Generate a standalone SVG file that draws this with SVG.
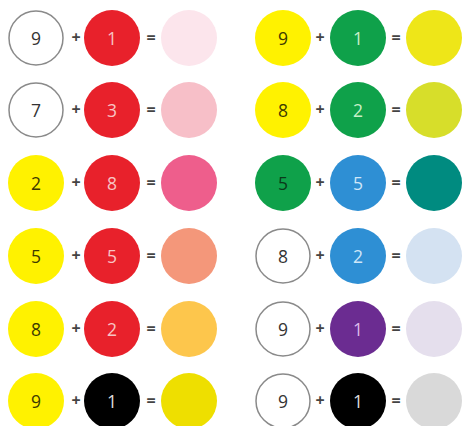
<svg xmlns="http://www.w3.org/2000/svg" width="463" height="426" viewBox="0 0 463 426">
<style>
text{font-family:"Open Sans","Liberation Sans",sans-serif;font-size:17.5px;text-anchor:middle;dominant-baseline:central}
.op{font-size:16px;fill:#444;font-weight:bold}
.w{fill:#fff;stroke:#8a8a8a;stroke-width:1.5}
.dk{fill:#333}
.yt{fill:#3d3a00}
</style>
<rect width="463" height="426" fill="#fff"/>
<g id="r1l"><circle class="w" cx="36" cy="38" r="27"/><text x="36" y="38" class="dk">9</text><text x="76" y="37" class="op">+</text><circle cx="112" cy="38" r="28" fill="#e8212b"/><text x="112" y="38" fill="#f8c4c4">1</text><text x="151" y="37" class="op">=</text><circle cx="189" cy="38" r="28" fill="#fce5ec"/></g>
<g id="r2l"><circle class="w" cx="36" cy="110" r="27"/><text x="36" y="110" class="dk">7</text><text x="76" y="109" class="op">+</text><circle cx="112" cy="110" r="28" fill="#e8212b"/><text x="112" y="110" fill="#f8c4c4">3</text><text x="151" y="109" class="op">=</text><circle cx="189" cy="110" r="28" fill="#f7bfc8"/></g>
<g id="r3l"><circle cx="36" cy="183" r="28" fill="#fff200"/><text x="36" y="183" class="yt">2</text><text x="76" y="182" class="op">+</text><circle cx="112" cy="183" r="28" fill="#e8212b"/><text x="112" y="183" fill="#f8c4c4">8</text><text x="151" y="182" class="op">=</text><circle cx="189" cy="183" r="28" fill="#ee5e8c"/></g>
<g id="r4l"><circle cx="36" cy="256" r="28" fill="#fff200"/><text x="36" y="256" class="yt">5</text><text x="76" y="255" class="op">+</text><circle cx="112" cy="256" r="28" fill="#e8212b"/><text x="112" y="256" fill="#f8c4c4">5</text><text x="151" y="255" class="op">=</text><circle cx="189" cy="256" r="28" fill="#f4977a"/></g>
<g id="r5l"><circle cx="36" cy="329" r="28" fill="#fff200"/><text x="36" y="329" class="yt">8</text><text x="76" y="328" class="op">+</text><circle cx="112" cy="329" r="28" fill="#e8212b"/><text x="112" y="329" fill="#f8c4c4">2</text><text x="151" y="328" class="op">=</text><circle cx="189" cy="329" r="28" fill="#fdc64c"/></g>
<g id="r6l"><circle cx="36" cy="401" r="28" fill="#fff200"/><text x="36" y="401" class="yt">9</text><text x="76" y="400" class="op">+</text><circle cx="112" cy="401" r="28" fill="#000"/><text x="112" y="401" fill="#dddddd">1</text><text x="151" y="400" class="op">=</text><circle cx="189" cy="401" r="28" fill="#eedf00"/></g>
<g id="r1r"><circle cx="283" cy="38" r="28" fill="#fff200"/><text x="283" y="38" class="yt">9</text><text x="320" y="37" class="op">+</text><circle cx="358" cy="38" r="28" fill="#0fa14a"/><text x="358" y="38" fill="#c8efc8">1</text><text x="396" y="37" class="op">=</text><circle cx="434" cy="38" r="28" fill="#eee618"/></g>
<g id="r2r"><circle cx="283" cy="110" r="28" fill="#fff200"/><text x="283" y="110" class="yt">8</text><text x="320" y="109" class="op">+</text><circle cx="358" cy="110" r="28" fill="#0fa14a"/><text x="358" y="110" fill="#c8efc8">2</text><text x="396" y="109" class="op">=</text><circle cx="434" cy="110" r="28" fill="#d7de2a"/></g>
<g id="r3r"><circle cx="283" cy="183" r="28" fill="#0fa14a"/><text x="283" y="183" fill="#0a3a1a">5</text><text x="320" y="182" class="op">+</text><circle cx="358" cy="183" r="28" fill="#2e8fd4"/><text x="358" y="183" fill="#cfe6f8">5</text><text x="396" y="182" class="op">=</text><circle cx="434" cy="183" r="28" fill="#008b80"/></g>
<g id="r4r"><circle class="w" cx="283" cy="256" r="27"/><text x="283" y="256" class="dk">8</text><text x="320" y="255" class="op">+</text><circle cx="358" cy="256" r="28" fill="#2e8fd4"/><text x="358" y="256" fill="#cfe6f8">2</text><text x="396" y="255" class="op">=</text><circle cx="434" cy="256" r="28" fill="#d4e2f2"/></g>
<g id="r5r"><circle class="w" cx="283" cy="329" r="27"/><text x="283" y="329" class="dk">9</text><text x="320" y="328" class="op">+</text><circle cx="358" cy="329" r="28" fill="#6b2c91"/><text x="358" y="329" fill="#dcbcea">1</text><text x="396" y="328" class="op">=</text><circle cx="434" cy="329" r="28" fill="#e5dfed"/></g>
<g id="r6r"><circle class="w" cx="283" cy="401" r="27"/><text x="283" y="401" class="dk">9</text><text x="320" y="400" class="op">+</text><circle cx="358" cy="401" r="28" fill="#000"/><text x="358" y="401" fill="#dddddd">1</text><text x="396" y="400" class="op">=</text><circle cx="434" cy="401" r="28" fill="#d9d9d9"/></g>
</svg>
